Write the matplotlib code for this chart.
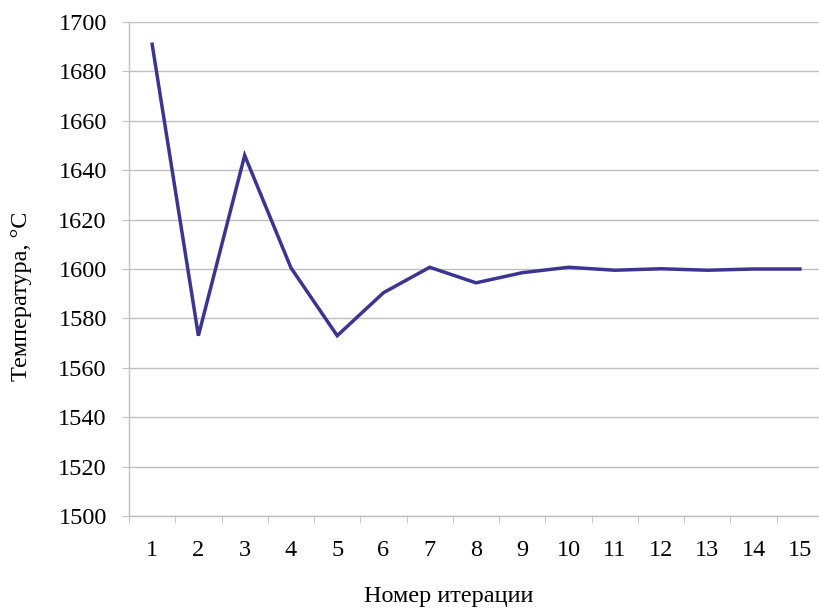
import matplotlib
matplotlib.use("Agg")
import matplotlib.pyplot as plt
from matplotlib.ticker import FixedLocator

iterations = list(range(1, 16))
temperature = [1691, 1573, 1646, 1600.5, 1573, 1590.4, 1600.7, 1594.4, 1598.5,
               1600.7, 1599.5, 1600.1, 1599.5, 1600, 1600]
y_ticks = list(range(1500, 1701, 20))

plt.rcParams['font.family'] = ['Liberation Serif', 'DejaVu Serif']

fig = plt.figure(figsize=(8.19, 6.09), dpi=100)
ax = fig.add_axes([129/819, 93/609, 694/819, 494/609])

grid_col = '#bfbfbf'
ax.plot(iterations, temperature, color='#3b3591', lw=2.5, solid_joinstyle='miter', zorder=3)

ax.set_xlim(0.5, 15.5)
ax.set_ylim(1500, 1700)
ax.set_yticks(y_ticks)
ax.set_xticks(iterations)
ax.xaxis.set_minor_locator(FixedLocator([i + 0.5 for i in range(0, 16)]))

ax.grid(axis='y', color=grid_col, lw=1.0)
ax.set_axisbelow(True)
for s in ['top', 'right']:
    ax.spines[s].set_visible(False)
for s in ['left', 'bottom']:
    ax.spines[s].set_color(grid_col)
    ax.spines[s].set_linewidth(1.0)

ax.tick_params(axis='x', which='major', length=0, pad=17, labelsize=17.5)
ax.tick_params(axis='x', which='minor', length=5, color=grid_col, direction='out')
ax.tick_params(axis='y', which='major', length=5, color=grid_col, pad=11, labelsize=17.5)

ax.set_xlabel('Номер итерации', fontsize=17.5)
ax.set_ylabel('Температура, °С', fontsize=17.5)
ax.xaxis.set_label_coords(0.461, -0.142)
ax.yaxis.set_label_coords(-0.140, 0.445)

fig.savefig('out.png', dpi=100)
